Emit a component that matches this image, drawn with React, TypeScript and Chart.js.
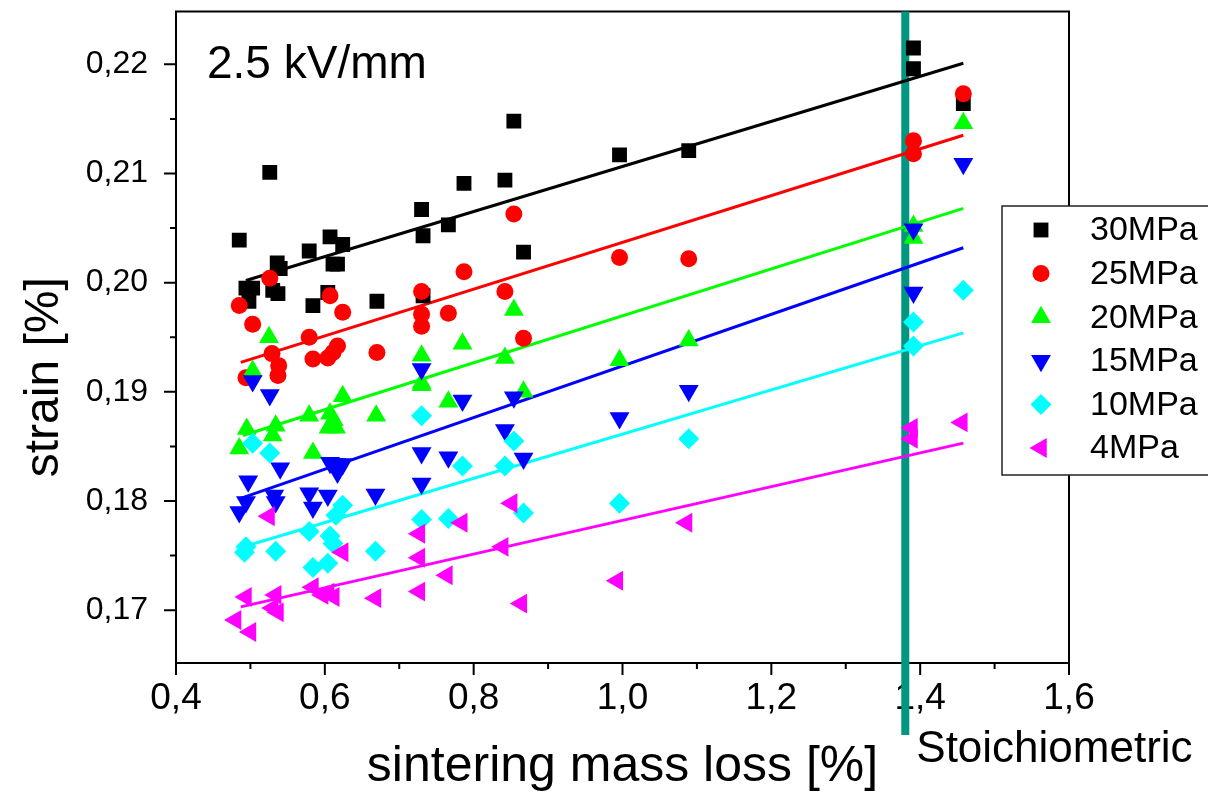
import React, { useEffect, useRef } from "react";
import { Chart, registerables } from "chart.js";

Chart.register(...registerables);

const SERIES = ["30MPa", "25MPa", "20MPa", "15MPa", "10MPa", "4MPa"];
const COLORS = ["#000000", "#ff0000", "#00ff00", "#0000ff", "#00ffff", "#ff00ff"];
const STYLES = ["rect", "circle", "triangle", "triangle", "rectRot", "triangle"];
const ROT = [0, 0, 0, 180, 0, -90];
const RADIUS = [10.5, 8.5, 11.5, 11.5, 10.5, 11.5];

const X30 = [0.485, 0.526, 0.536, 0.540, 0.579, 0.607, 0.624, 0.611, 0.617, 0.494, 0.503, 0.498, 0.530, 0.537, 0.604, 0.584, 0.670, 0.854, 0.787, 0.842, 0.730, 0.766, 0.732, 0.867, 0.732, 0.996, 1.089, 1.391, 1.391, 1.458];
const Y30 = [0.2039, 0.2101, 0.2018, 0.2013, 0.2029, 0.2042, 0.2035, 0.2017, 0.2017, 0.1995, 0.1995, 0.1983, 0.1993, 0.1990, 0.1991, 0.1979, 0.1983, 0.2148, 0.2091, 0.2094, 0.2067, 0.2053, 0.2043, 0.2028, 0.1988, 0.2117, 0.2121, 0.2215, 0.2196, 0.2164];

const X25 = [0.485, 0.503, 0.526, 0.607, 0.624, 0.579, 0.529, 0.584, 0.604, 0.617, 0.611, 0.538, 0.537, 0.494, 0.670, 0.854, 0.787, 0.730, 0.842, 0.766, 0.730, 0.730, 0.867, 0.996, 1.089, 1.391, 1.391, 1.458];
const Y25 = [0.1979, 0.1962, 0.2004, 0.1988, 0.1973, 0.1950, 0.1935, 0.1930, 0.1931, 0.1942, 0.1936, 0.1924, 0.1915, 0.1913, 0.1936, 0.2063, 0.2010, 0.1992, 0.1992, 0.1972, 0.1971, 0.1960, 0.1949, 0.2023, 0.2022, 0.2130, 0.2118, 0.2173];

const X20 = [0.525, 0.503, 0.624, 0.495, 0.534, 0.530, 0.579, 0.607, 0.612, 0.605, 0.615, 0.485, 0.584, 0.669, 0.785, 0.730, 0.842, 0.730, 0.730, 0.766, 0.867, 0.854, 0.996, 1.089, 1.391, 1.391, 1.458];
const Y20 = [0.1950, 0.1919, 0.1896, 0.1866, 0.1869, 0.1860, 0.1878, 0.1880, 0.1874, 0.1867, 0.1867, 0.1848, 0.1844, 0.1878, 0.1944, 0.1933, 0.1931, 0.1908, 0.1906, 0.1891, 0.1900, 0.1975, 0.1929, 0.1947, 0.2052, 0.2041, 0.2146];

const X15 = [0.503, 0.526, 0.540, 0.497, 0.607, 0.615, 0.624, 0.617, 0.485, 0.494, 0.532, 0.534, 0.579, 0.584, 0.604, 0.668, 0.730, 0.785, 0.854, 0.842, 0.730, 0.766, 0.867, 0.730, 0.996, 1.089, 1.391, 1.391, 1.458];
const Y15 = [0.1910, 0.1897, 0.1830, 0.1818, 0.1835, 0.1834, 0.1834, 0.1826, 0.1790, 0.1799, 0.1805, 0.1799, 0.1807, 0.1794, 0.1805, 0.1806, 0.1921, 0.1892, 0.1895, 0.1865, 0.1844, 0.1840, 0.1839, 0.1816, 0.1876, 0.1901, 0.2049, 0.1991, 0.2109];

const X10 = [0.503, 0.526, 0.624, 0.615, 0.494, 0.492, 0.534, 0.579, 0.607, 0.611, 0.584, 0.604, 0.668, 0.730, 0.854, 0.785, 0.842, 0.867, 0.730, 0.766, 0.996, 1.089, 1.391, 1.391, 1.458];
const Y10 = [0.1853, 0.1844, 0.1796, 0.1787, 0.1758, 0.1753, 0.1754, 0.1772, 0.1768, 0.1761, 0.1739, 0.1743, 0.1754, 0.1878, 0.1855, 0.1832, 0.1832, 0.1789, 0.1783, 0.1784, 0.1798, 0.1857, 0.1964, 0.1942, 0.1993];

const X4 = [0.525, 0.624, 0.494, 0.534, 0.530, 0.537, 0.584, 0.605, 0.612, 0.597, 0.480, 0.500, 0.668, 0.727, 0.727, 0.784, 0.764, 0.727, 0.839, 0.864, 0.851, 0.993, 1.086, 1.389, 1.389, 1.456];
const Y4 = [0.1786, 0.1753, 0.1712, 0.1714, 0.1702, 0.1698, 0.1721, 0.1716, 0.1712, 0.1714, 0.1691, 0.1680, 0.1711, 0.1770, 0.1748, 0.1780, 0.1732, 0.1717, 0.1758, 0.1706, 0.1798, 0.1727, 0.1780, 0.1867, 0.1857, 0.1872];

const XS = [X30, X25, X20, X15, X10, X4];
const YS = [Y30, Y25, Y20, Y15, Y10, Y4];

const FIT_X_START = [0.494, 0.487, 0.490, 0.485, 0.485, 0.487];
const FIT_X_END = [1.458, 1.458, 1.458, 1.458, 1.458, 1.458];
const FIT_Y_START = [0.2002, 0.1927, 0.1860, 0.1802, 0.1757, 0.1703];
const FIT_Y_END = [0.2201, 0.2135, 0.2068, 0.2032, 0.1954, 0.1853];

const X_MIN = 0.4;
const X_MAX = 1.6;
const Y_MIN = 0.16516;
const Y_MAX = 0.22484;
const X_MAJOR = [0.4, 0.6, 0.8, 1.0, 1.2, 1.4, 1.6];
const X_MINOR = [0.5, 0.7, 0.9, 1.1, 1.3, 1.5];
const Y_MAJOR = [0.17, 0.18, 0.19, 0.2, 0.21, 0.22];
const Y_MINOR = [0.175, 0.185, 0.195, 0.205, 0.215];
const STOICH_X = 1.38;

const TITLE_TEXT = "2.5 kV/mm";
const X_TITLE = "sintering mass loss [%]";
const Y_TITLE = "strain [%]";
const STOICH_LABEL = "Stoichiometric";

const FONT = "'Liberation Sans', Arial, sans-serif";

function drawMarker(ctx: CanvasRenderingContext2D, style: string, r: number, rotDeg: number, x: number, y: number) {
  const rad = (rotDeg * Math.PI) / 180;
  ctx.beginPath();
  if (style === "circle") {
    ctx.arc(x, y, r, 0, Math.PI * 2);
  } else if (style === "rect") {
    const s = Math.SQRT1_2 * r;
    ctx.rect(x - s, y - s, 2 * s, 2 * s);
  } else if (style === "rectRot") {
    ctx.moveTo(x - r, y);
    ctx.lineTo(x, y - r);
    ctx.lineTo(x + r, y);
    ctx.lineTo(x, y + r);
    ctx.closePath();
  } else if (style === "triangle") {
    let a = rad;
    ctx.moveTo(x + Math.sin(a) * r, y - Math.cos(a) * r);
    a += (2 * Math.PI) / 3;
    ctx.lineTo(x + Math.sin(a) * r, y - Math.cos(a) * r);
    a += (2 * Math.PI) / 3;
    ctx.lineTo(x + Math.sin(a) * r, y - Math.cos(a) * r);
    ctx.closePath();
  }
  ctx.fill();
}

const decor = {
  id: "decor",
  beforeDatasetsDraw(chart: any) {
    const { ctx, chartArea, scales } = chart;
    const { left, right, top, bottom } = chartArea;
    ctx.save();
    ctx.strokeStyle = "#000";
    ctx.lineWidth = 2;
    ctx.strokeRect(left, top, right - left, bottom - top);
    ctx.beginPath();
    X_MAJOR.forEach((v) => {
      const x = scales.x.getPixelForValue(v);
      ctx.moveTo(x, bottom);
      ctx.lineTo(x, bottom + 12);
    });
    X_MINOR.forEach((v) => {
      const x = scales.x.getPixelForValue(v);
      ctx.moveTo(x, bottom);
      ctx.lineTo(x, bottom + 6);
    });
    Y_MAJOR.forEach((v) => {
      const y = scales.y.getPixelForValue(v);
      ctx.moveTo(left, y);
      ctx.lineTo(left - 12, y);
    });
    Y_MINOR.forEach((v) => {
      const y = scales.y.getPixelForValue(v);
      ctx.moveTo(left, y);
      ctx.lineTo(left - 6, y);
    });
    ctx.stroke();
    const sx = scales.x.getPixelForValue(STOICH_X);
    ctx.strokeStyle = "#00967f";
    ctx.lineWidth = 8;
    ctx.beginPath();
    ctx.moveTo(sx, top);
    ctx.lineTo(sx, 735);
    ctx.stroke();
    ctx.restore();
  },
  afterDraw(chart: any) {
    const { ctx, chartArea, scales } = chart;
    ctx.save();
    ctx.fillStyle = "#000";
    ctx.textBaseline = "alphabetic";
    ctx.font = `46px ${FONT}`;
    ctx.textAlign = "left";
    ctx.fillText(TITLE_TEXT, chartArea.left + 31, 78);
    const sx = scales.x.getPixelForValue(STOICH_X);
    ctx.font = `44px ${FONT}`;
    ctx.fillText(STOICH_LABEL, sx + 11, 762);
    ctx.font = `50px ${FONT}`;
    ctx.textAlign = "center";
    ctx.fillText(X_TITLE, (chartArea.left + chartArea.right) / 2, 781);
    ctx.save();
    ctx.translate(58, (chartArea.top + chartArea.bottom) / 2 + 40);
    ctx.rotate(-Math.PI / 2);
    ctx.font = `48px ${FONT}`;
    ctx.fillText(Y_TITLE, 0, 0);
    ctx.restore();
    const lx = 1002;
    const ly = 206;
    ctx.fillStyle = "#fff";
    ctx.fillRect(lx, ly, 220, 269);
    ctx.strokeStyle = "#222";
    ctx.lineWidth = 1.5;
    ctx.strokeRect(lx, ly, 220, 269);
    SERIES.forEach((name, i) => {
      const cy = ly + 24 + i * 43.6;
      ctx.fillStyle = COLORS[i];
      drawMarker(ctx, STYLES[i], RADIUS[i], ROT[i], lx + 39, cy);
      ctx.fillStyle = "#000";
      ctx.font = `34px ${FONT}`;
      ctx.textAlign = "left";
      ctx.textBaseline = "middle";
      ctx.fillText(name, lx + 88, cy + 1);
    });
    ctx.restore();
  },
};

export default function App() {
  const ref = useRef<HTMLCanvasElement | null>(null);
  useEffect(() => {
    if (!ref.current) return;
    const datasets: any[] = [];
    SERIES.forEach((name, i) => {
      datasets.push({
        label: name,
        data: XS[i].map((x, j) => ({ x, y: YS[i][j] })),
        showLine: false,
        pointStyle: STYLES[i],
        pointRotation: ROT[i],
        pointRadius: RADIUS[i],
        pointHoverRadius: RADIUS[i],
        pointBackgroundColor: COLORS[i],
        pointBorderColor: COLORS[i],
        pointBorderWidth: 0,
        backgroundColor: COLORS[i],
        borderColor: COLORS[i],
        order: SERIES.length - 1 - i,
      });
    });
    SERIES.forEach((name, i) => {
      datasets.push({
        label: name + " fit",
        data: [
          { x: FIT_X_START[i], y: FIT_Y_START[i] },
          { x: FIT_X_END[i], y: FIT_Y_END[i] },
        ],
        showLine: true,
        pointRadius: 0,
        pointHoverRadius: 0,
        borderColor: COLORS[i],
        backgroundColor: COLORS[i],
        borderWidth: 3,
        fill: false,
        order: 100 + i,
      });
    });
    const chart = new Chart(ref.current, {
      type: "scatter",
      data: { datasets },
      options: {
        responsive: false,
        animation: false,
        events: [],
        layout: { padding: { left: 0, right: 139, top: 10, bottom: 0 } },
        plugins: { legend: { display: false }, tooltip: { enabled: false } },
        scales: {
          x: {
            type: "linear",
            min: X_MIN,
            max: X_MAX,
            afterBuildTicks: (s: any) => {
              s.ticks = X_MAJOR.map((v) => ({ value: v }));
            },
            afterFit: (s: any) => {
              s.height = 132;
              s.paddingLeft = 0;
              s.paddingRight = 0;
            },
            grid: { display: false, drawTicks: false },
            border: { display: false },
            ticks: {
              autoSkip: false,
              maxRotation: 0,
              padding: 14,
              color: "#000",
              font: { family: FONT, size: 37 },
              callback: (v: any) => Number(v).toFixed(1).replace(".", ","),
            },
          },
          y: {
            type: "linear",
            min: Y_MIN,
            max: Y_MAX,
            afterBuildTicks: (s: any) => {
              s.ticks = Y_MAJOR.map((v) => ({ value: v }));
            },
            afterFit: (s: any) => {
              s.width = 176;
              s.paddingTop = 0;
              s.paddingBottom = 0;
            },
            grid: { display: false, drawTicks: false },
            border: { display: false },
            ticks: {
              autoSkip: false,
              padding: 28,
              color: "#000",
              font: { family: FONT, size: 32 },
              callback: (v: any) => Number(v).toFixed(2).replace(".", ","),
            },
          },
        },
      },
      plugins: [decor],
    } as any);
    return () => chart.destroy();
  }, []);
  return (
    <div style={{ position: "fixed", left: 0, top: 0, width: 1208, height: 795, background: "#fff" }}>
      <canvas ref={ref} width={1208} height={795} style={{ display: "block", width: 1208, height: 795 }} />
    </div>
  );
}
